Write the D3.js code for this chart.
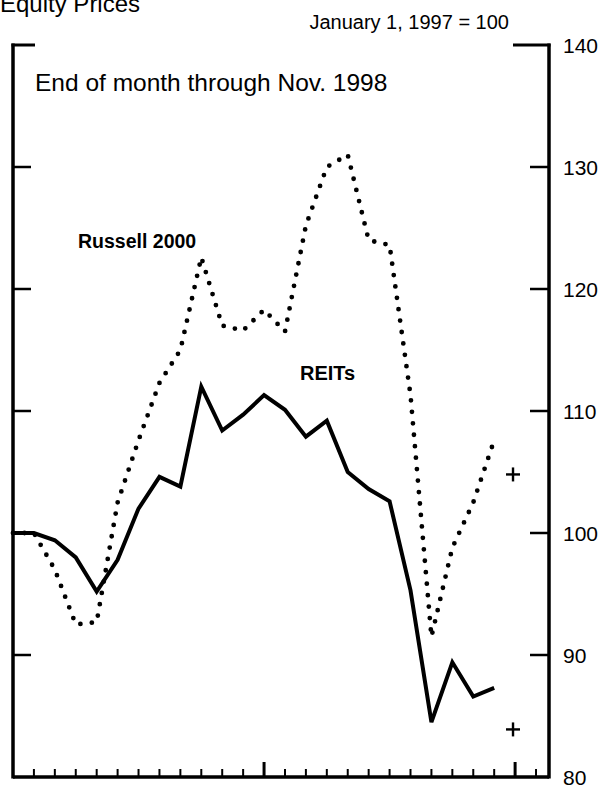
<!DOCTYPE html>
<html>
<head>
<meta charset="utf-8">
<script src="https://cdn.jsdelivr.net/npm/d3@7"></script>
<style>
  html, body { margin: 0; padding: 0; background: #fff; }
  svg { display: block; }
  text { font-family: "Liberation Sans", Arial, Helvetica, sans-serif; fill: #000; }
</style>
</head>
<body>
<svg id="chart" width="606" height="793"></svg>
<script>
// Month index: -1 = Jan 1, 1997 (=100), 0 = end of Jan 1997, ..., 22 = end of Nov 1998
const months = d3.range(-1, 23);
const reits = [100, 100, 99.4, 98.0, 95.2, 97.8, 102.0, 104.6, 103.8, 112.0, 108.4, 109.7,
               111.3, 110.1, 107.9, 109.2, 105.0, 103.6, 102.6, 95.3, 84.5, 89.4, 86.6, 87.3];
const russell = [100, 100, 97.0, 92.5, 92.7, 102.5, 107.6, 112.3, 115.0, 122.6, 117.0, 116.6,
                 118.3, 116.5, 125.2, 130.0, 131.0, 124.0, 123.6, 111.3, 91.5, 98.8, 102.5, 107.6];
const plusMarks = [{ m: 22.9, v: 104.8 }, { m: 22.9, v: 83.9 }];
const yTicks = [80, 90, 100, 110, 120, 130, 140];
const monthTicks = d3.range(0, 25);
const yearTicks = [11, 23];

(function () {
const svg = d3.select("#chart");
const x = d3.scaleLinear().domain([-1, 24.62]).range([13, 549]);
const y = d3.scaleLinear().domain([80, 140]).range([777, 45]);

const fL = x(-1), fR = x(24.62), fT = y(140), fB = y(80);

// Frame
const frame = svg.append("g").attr("stroke", "#000").attr("fill", "none");
frame.append("line").attr("x1", fL).attr("x2", fL).attr("y1", fT - 1.5).attr("y2", fB + 1.5).attr("stroke-width", 3.5);
frame.append("line").attr("x1", fR).attr("x2", fR).attr("y1", fT - 1.5).attr("y2", fB + 1.5).attr("stroke-width", 3.5);
frame.append("line").attr("x1", fL).attr("x2", fR).attr("y1", fB).attr("y2", fB).attr("stroke-width", 3.5);

// Y ticks inside on both sides
const inner = yTicks.filter(d => d > 80 && d < 140);
frame.selectAll(".lt").data(inner).join("line").attr("class", "lt")
  .attr("x1", fL).attr("x2", fL + 18).attr("y1", d => y(d)).attr("y2", d => y(d)).attr("stroke-width", 2.5);
frame.selectAll(".rt").data(inner).join("line").attr("class", "rt")
  .attr("x1", fR).attr("x2", fR - 19).attr("y1", d => y(d)).attr("y2", d => y(d)).attr("stroke-width", 2.5);
// top corner ticks
frame.append("line").attr("x1", fL - 1.5).attr("x2", fL + 22).attr("y1", fT).attr("y2", fT).attr("stroke-width", 3);
frame.append("line").attr("x1", fR + 1.5).attr("x2", fR - 36).attr("y1", fT).attr("y2", fT).attr("stroke-width", 3);

// Bottom month ticks
frame.selectAll(".bt").data(monthTicks).join("line").attr("class", "bt")
  .attr("x1", d => x(d)).attr("x2", d => x(d))
  .attr("y1", fB).attr("y2", d => yearTicks.includes(d) ? fB - 15 : fB - 8)
  .attr("stroke-width", d => yearTicks.includes(d) ? 3 : 2);

// Right axis labels
svg.append("g").selectAll("text").data(yTicks).join("text")
  .attr("x", 563).attr("y", d => y(d)).attr("dy", "0.36em")
  .attr("font-size", 21).text(d => d);

// Lines
const line = d3.line().x((d, i) => x(months[i])).y(d => y(d));
svg.append("path").datum(russell).attr("d", line)
  .attr("fill", "none").attr("stroke", "#000").attr("stroke-width", 4.8)
  .attr("stroke-linecap", "round").attr("stroke-linejoin", "round")
  .attr("stroke-dasharray", "0 11.5");
svg.append("path").datum(reits).attr("d", line)
  .attr("fill", "none").attr("stroke", "#000").attr("stroke-width", 4)
  .attr("stroke-linejoin", "miter");

// Plus marks
const pm = svg.append("g").attr("stroke", "#000").attr("stroke-width", 2.4);
plusMarks.forEach(p => {
  const cx = x(p.m), cy = y(p.v);
  pm.append("line").attr("x1", cx - 7).attr("x2", cx + 7).attr("y1", cy).attr("y2", cy);
  pm.append("line").attr("x1", cx).attr("x2", cx).attr("y1", cy - 7).attr("y2", cy + 7);
});

// Texts
svg.append("text").attr("x", 0).attr("y", 12).attr("font-size", 24).text("Equity Prices");
svg.append("text").attr("x", 509).attr("y", 29).attr("text-anchor", "end").attr("font-size", 20).text("January 1, 1997 = 100");
svg.append("text").attr("x", 35).attr("y", 91).attr("font-size", 24.5).text("End of month through Nov. 1998");
svg.append("text").attr("x", 78).attr("y", 248).attr("font-size", 19.5).attr("font-weight", "bold").text("Russell 2000");
svg.append("text").attr("x", 300).attr("y", 380).attr("font-size", 20).attr("font-weight", "bold").text("REITs");
})();
</script>
</body>
</html>
